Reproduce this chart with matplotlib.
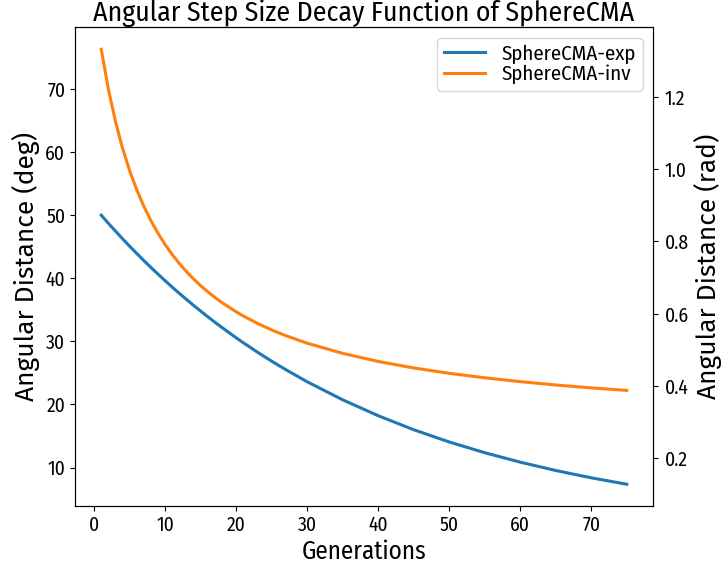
import numpy as np
import matplotlib
matplotlib.use("Agg")
import matplotlib.pyplot as plt

plt.rcParams['font.family'] = ['Fira Sans Condensed', 'DejaVu Sans']

generations = [1, 2, 3, 4, 5, 6, 7, 8, 9, 10, 11, 12, 13, 14, 15, 16, 17, 18, 20, 21, 23, 25, 27,
               30, 35, 40, 45, 50, 55, 60, 65, 70, 75]
exp_deg = [50.00, 48.72, 47.48, 46.26, 45.08, 43.93, 42.81, 41.71, 40.65, 39.61, 38.59, 37.61,
           36.65, 35.71, 34.80, 33.91, 33.04, 32.20, 30.57, 29.79, 28.29, 26.86, 25.51,
           23.60, 20.74, 18.22, 16.00, 14.06, 12.36, 10.86, 9.54, 8.38, 7.36]
inv_deg = [76.30, 69.98, 64.85, 60.61, 57.05, 54.02, 51.40, 49.12, 47.12, 45.34, 43.76, 42.34,
           41.06, 39.89, 38.83, 37.86, 36.97, 36.15, 34.69, 34.03, 32.85, 31.81, 30.90,
           29.71, 28.10, 26.82, 25.79, 24.94, 24.23, 23.62, 23.09, 22.63, 22.23]
series_labels = ["SphereCMA-exp", "SphereCMA-inv"]
x_ticks = [0, 10, 20, 30, 40, 50, 60, 70]
deg_ticks = [10, 20, 30, 40, 50, 60, 70]
rad_ticks = [0.2, 0.4, 0.6, 0.8, 1.0, 1.2]

fig = plt.figure(figsize=(7.23, 5.67), dpi=100)
ax = fig.add_axes([0.1037, 0.1076, 0.7995, 0.8439])
ax.plot(generations, exp_deg, color='#1f77b4', lw=2.2, label=series_labels[0])
ax.plot(generations, inv_deg, color='#ff7f0e', lw=2.2, label=series_labels[1])
ax.set_xticks(x_ticks)
ax.set_yticks(deg_ticks)
ax.tick_params(labelsize=14)
ax.set_xlabel("Generations", fontsize=18, labelpad=3)
ax.set_ylabel("Angular Distance (deg)", fontsize=19, family=['Fira Sans', 'DejaVu Sans'], labelpad=4)
ax.set_title("Angular Step Size Decay Function of SphereCMA", fontsize=20, pad=3)
ax.legend(loc='upper right', fontsize=15, labelspacing=0.05, borderpad=0.3, handlelength=2.0)

ax2 = ax.twinx()
lo, hi = ax.get_ylim()
ax2.set_ylim(np.deg2rad(lo), np.deg2rad(hi))
ax2.set_yticks(rad_ticks)
ax2.tick_params(labelsize=14, pad=5)
ax2.set_ylabel("Angular Distance (rad)", fontsize=19, family=['Fira Sans', 'DejaVu Sans'], labelpad=4)

fig.savefig("out.png", dpi=100)
